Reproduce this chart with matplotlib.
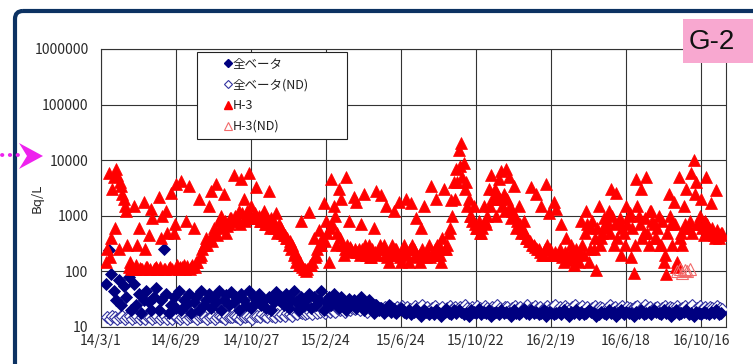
import numpy as np
import pandas as pd
import matplotlib
matplotlib.use("Agg")
import matplotlib.pyplot as plt
from matplotlib.patches import FancyBboxPatch, Polygon, Rectangle
from matplotlib.lines import Line2D
from matplotlib.ticker import NullLocator, FixedLocator, FixedFormatter

plt.rcParams['font.family'] = ['Noto Sans CJK JP', 'DejaVu Sans']

# ---------------- data ----------------
x_tick_labels = ["14/3/1", "14/6/29", "14/10/27", "15/2/24", "15/6/24",
                 "15/10/22", "16/2/19", "16/6/18", "16/10/16"]
y_ticks = [10, 100, 1000, 10000, 100000, 1000000]
y_tick_labels = ["10", "100", "1000", "10000", "100000", "1000000"]
x_start = "2014-03-01"
x_end = "2016-11-25"

# H-3 (Bq/L), sampled every 4 days from 2014-03-09
h3_start = "2014-03-09"
h3_step = "4D"
h3_values = [
    150, 6000, 400, 5000, 7000, 250, 3500, 2000, 1200, 120,
    110, 1500, 130, 600, 110, 1800, 120, 450, 1300, 110,
    120, 2200, 400, 110, 1200, 115, 2600, 500, 3800, 110,
    4200, 130, 800, 3500, 120, 600, 150, 2000, 200, 300,
    400, 1500, 2800, 600, 3800, 800, 1000, 2500, 500, 700,
    900, 5500, 800, 1200, 4500, 2000, 1000, 6000, 1500, 900,
    3300, 1000, 800, 1200, 700, 2800, 900, 600, 1100, 700,
    600, 450, 400, 300, 250, 200, 150, 130, 800, 110,
    100, 1150, 130, 400, 200, 550, 300, 1700, 800, 150,
    4500, 1500, 300, 3000, 2000, 200, 5000, 800, 250, 2200,
    1800, 250, 700, 2500, 200, 300, 180, 600, 2800, 250,
    2400, 300, 1500, 150, 200, 1200, 250, 1800, 150, 300,
    2000, 150, 1700, 250, 900, 200, 600, 1500, 180, 300,
    3500, 200, 2000, 300, 150, 3000, 250, 500, 1900, 4000,
    7000, 15000, 20000, 9000, 4000, 2000, 1000, 1500, 600, 800,
    500, 1500, 700, 3000, 5500, 2000, 1000, 4500, 6500, 2500,
    7000, 5000, 900, 3500, 600, 1500, 500, 800, 400, 350,
    3300, 300, 2500, 250, 1500, 200, 3800, 1100, 200, 1800,
    1300, 200, 700, 150, 400, 180, 300, 130, 250, 150,
    800, 200, 1200, 150, 600, 250, 105, 1500, 400, 900,
    600, 1200, 3000, 300, 2600, 800, 200, 500, 1500, 1000,
    180, 95, 4500, 1000, 3000, 500, 5000, 300, 1200, 700,
    400, 1000, 300, 150, 90, 2500, 700, 1800, 120, 5000,
    500, 1500, 3000, 600, 6000, 10000, 4000, 700, 2000, 450,
    5000, 600, 1700, 450, 2900, 400, 500,
]
# H-3 intermediate samples, every 4 days from 2014-03-11
h3_b_start = "2014-03-11"
h3_b_values = [
    250, 180, 3000, 600, 5500, 4000, 2500, 1500, 300, 150,
    120, 110, 300, 115, 110, 250, 120, 110, 900, 115,
    110, 120, 1000, 110, 500, 120, 110, 700, 130, 120,
    120, 110, 125, 110, 130, 120, 150, 180, 250, 300,
    300, 400, 350, 500, 450, 600, 700, 800, 650, 900,
    800, 1000, 900, 700, 1100, 800, 1200, 1000, 900, 1100,
    900, 800, 1000, 700, 900, 600, 800, 700, 500, 600,
    500, 450, 400, 350, 300, 220, 180, 150, 120, 110,
    110, 130, 150, 180, 250, 300, 400, 350, 500, 600,
    700, 1000, 500, 400, 300, 250, 300, 280, 220, 250,
    220, 200, 250, 300, 200, 180, 250, 220, 200, 300,
    250, 200, 180, 220, 300, 250, 200, 180, 220, 250,
    200, 250, 300, 200, 180, 150, 250, 200, 220, 180,
    200, 250, 300, 200, 400, 250, 300, 600, 1000, 2000,
    4000, 8000, 5000, 3000, 1500, 1000, 800, 700, 600, 500,
    600, 800, 1000, 1500, 2000, 3000, 2500, 2000, 1500, 1200,
    2000, 1500, 1200, 1000, 800, 700, 600, 500, 400, 350,
    300, 280, 250, 220, 200, 250, 300, 250, 200, 220,
    200, 250, 180, 220, 160, 200, 250, 180, 200, 220,
    300, 500, 700, 250, 800, 400, 600, 300, 500, 700,
    800, 500, 1000, 700, 400, 900, 600, 300, 700, 1100,
    600, 300, 1500, 700, 400, 900, 500, 1200, 800, 400,
    600, 300, 800, 200, 500, 1000, 300, 700, 150, 400,
    300, 700, 600, 800, 500, 2500, 700, 1000, 600, 800,
    700, 500, 600, 400, 550, 450, 500,
]

# H-3 not detected (detection limit values)
h3_nd_dates = ["2016-09-08", "2016-09-12", "2016-09-16", "2016-09-20",
               "2016-09-24", "2016-09-28"]
h3_nd_values = [100, 110, 95, 105, 100, 110]

# gross beta detected, every 4 days from 2014-03-09
beta_start = "2014-03-09"
beta_step = "4D"
beta_values = [
    60, 240, 90, 45, 30, 70, 25, 55, 35, 80,
    20, 60, 25, 40, 18, 30, 45, 28, 20, 35,
    50, 20, 30, 250, 40, 18, 25, 35, 22, 45,
    20, 30, 25, 40, 18, 28, 35, 20, 45, 25,
    30, 40, 22, 35, 28, 45, 20, 30, 38, 25,
    42, 28, 35, 20, 40, 30, 25, 45, 22, 35,
    28, 40, 25, 30, 22, 35, 20, 28, 42, 30,
    35, 25, 40, 22, 30, 45, 28, 20, 35, 25,
    30, 40, 22, 35, 25, 30, 45, 20, 28, 35,
    25, 40, 30, 22, 35, 28, 20, 32, 25, 30,
    22, 28, 35, 20, 25, 30, 22, 18, 25, 20,
    22, 18, 20, 25, 19, 21, 18, 20, 22, 19,
    18, 20, 17, 19, 21, 18, 16, 20, 19, 17,
    19, 17, 20, 18, 16, 19, 21, 18, 17, 20,
    18, 20, 19, 17, 18, 16, 20, 19, 18, 21,
    17, 19, 18, 20, 16, 18, 19, 17, 20, 18,
    19, 18, 16, 20, 18, 17, 19, 21, 18, 17,
    20, 18, 19, 17, 18, 20, 16, 19, 18, 17,
    18, 19, 17, 20, 18, 16, 19, 18, 20, 17,
    19, 17, 18, 20, 19, 18, 16, 17, 19, 18,
    17, 20, 18, 19, 16, 18, 20, 17, 19, 18,
    18, 16, 19, 18, 20, 17, 18, 19, 17, 20,
    19, 18, 17, 20, 18, 19, 16, 18, 20, 17,
    18, 19, 20, 17, 18, 16, 19, 18, 17, 19,
    18, 17, 19, 18, 20, 17, 18,
]

# gross beta not detected (detection limit), every 4 days from 2014-03-11
beta_nd_start = "2014-03-11"
beta_nd_step = "4D"
beta_nd_values = [
    15, 14, 16, 15, 14, 15, 16, 14, 15, 16,
    14, 15, 16, 14, 15, 14, 16, 15, 14, 15,
    16, 14, 15, 16, 14, 15, 14, 16, 15, 14,
    15, 16, 14, 15, 16, 15, 14, 15, 16, 15,
    14, 15, 16, 14, 15, 16, 15, 14, 16, 15,
    15, 16, 15, 14, 16, 15, 16, 15, 14, 16,
    16, 15, 17, 16, 15, 17, 16, 15, 17, 16,
    17, 16, 18, 17, 16, 18, 17, 19, 18, 17,
    18, 19, 17, 20, 18, 19, 21, 18, 20, 19,
    20, 19, 22, 20, 21, 19, 23, 20, 22, 21,
    22, 20, 24, 21, 19, 23, 21, 25, 20, 22,
    21, 23, 20, 24, 22, 19, 23, 21, 24, 20,
    23, 21, 19, 24, 22, 20, 25, 21, 23, 20,
    22, 24, 20, 21, 23, 19, 22, 24, 21, 23,
    20, 23, 21, 25, 22, 20, 23, 21, 24, 22,
    21, 24, 22, 20, 23, 21, 25, 22, 20, 23,
    23, 20, 22, 24, 21, 23, 20, 22, 25, 21,
    22, 24, 21, 23, 20, 22, 24, 21, 23, 25,
    20, 23, 21, 24, 22, 20, 23, 25, 21, 22,
    24, 21, 23, 20, 22, 24, 21, 23, 22, 20,
    22, 25, 21, 23, 20, 22, 24, 21, 23, 22,
    21, 23, 24, 20, 22, 25, 21, 23, 20, 22,
    23, 20, 22, 24, 21, 23, 22, 20, 24, 21,
    22, 24, 21, 23, 25, 20, 22, 24, 21, 23,
    21, 23, 22, 20, 24, 22, 21,
]

series_labels = ["全ベータ", "全ベータ(ND)", "H-3", "H-3(ND)"]
panel_label = "G-2"
y_label = "Bq/L"

# ---------------- figure ----------------
W, H = 753, 364
fig = plt.figure(figsize=(W / 100, H / 100), dpi=100)
fig.patch.set_facecolor("white")

L, R, T, B = 101, 726, 49, 327
ax = fig.add_axes([L / W, 1 - B / H, (R - L) / W, (B - T) / H])

beta_dates = pd.date_range(beta_start, periods=len(beta_values), freq=beta_step)
beta_nd_dates = pd.date_range(beta_nd_start, periods=len(beta_nd_values), freq=beta_nd_step)
h3_dates = pd.date_range(h3_start, periods=len(h3_values), freq=h3_step)
h3_b_dates = pd.date_range(h3_b_start, periods=len(h3_b_values), freq=h3_step)
h3_nd_d = pd.to_datetime(h3_nd_dates)

h3_all_dates = h3_dates.append(h3_b_dates)
h3_all_values = list(h3_values) + list(h3_b_values)

navy = "#000080"
red = "#ff0000"
nd_blue = "#3333a0"
nd_red = "#f26a6a"

ax.plot(beta_nd_dates, beta_nd_values, linestyle="none", marker="D", ms=6.0,
        mfc="white", mec=nd_blue, mew=0.8, zorder=3)
ax.plot(beta_dates, beta_values, linestyle="none", marker="D", ms=6.0,
        mfc=navy, mec=navy, mew=0.6, zorder=3)
ax.plot(h3_all_dates, h3_all_values, linestyle="none", marker="^", ms=8.5,
        mfc=red, mec=red, mew=0.5, zorder=4)
ax.plot(h3_nd_d, h3_nd_values, linestyle="none", marker="^", ms=8.5,
        mfc="none", mec=nd_red, mew=0.8, zorder=4)

ax.set_yscale("log")
ax.set_ylim(y_ticks[0], y_ticks[-1])
ax.yaxis.set_major_locator(FixedLocator(y_ticks))
ax.yaxis.set_major_formatter(FixedFormatter(y_tick_labels))
ax.yaxis.set_minor_locator(NullLocator())

xt = pd.to_datetime(["20" + s for s in x_tick_labels], format="%Y/%m/%d")
ax.set_xlim(pd.Timestamp(x_start), pd.Timestamp(x_end))
ax.set_xticks(xt)
ax.set_xticklabels(x_tick_labels)
ax.xaxis.set_minor_locator(NullLocator())

ax.grid(True, which="major", color="#333333", linewidth=0.8)
ax.set_axisbelow(True)
for s in ax.spines.values():
    s.set_color("#333333")
    s.set_linewidth(0.8)
ax.tick_params(axis="both", length=0, labelsize=10, colors="#2a2a2a")
ax.tick_params(axis="y", pad=9)
ax.tick_params(axis="x", pad=5)

ax.set_ylabel(y_label, fontsize=9.5, color="#2a2a2a")
ax.yaxis.set_label_coords(-0.092, 0.464)

handles = [
    Line2D([], [], linestyle="none", marker="D", ms=4, mfc=navy, mec=navy),
    Line2D([], [], linestyle="none", marker="D", ms=4, mfc="none", mec=nd_blue, mew=0.8),
    Line2D([], [], linestyle="none", marker="^", ms=6, mfc=red, mec=red),
    Line2D([], [], linestyle="none", marker="^", ms=6, mfc="none", mec=nd_red, mew=0.8),
]
x0 = (197 - L) / (R - L)
x1 = (347 - L) / (R - L)
ytop = (B - 52) / (B - T)
leg = ax.legend(handles, series_labels, loc="upper left",
                bbox_to_anchor=(x0, ytop - 0.3, x1 - x0, 0.3), mode="expand",
                borderaxespad=0, fontsize=9, frameon=True, fancybox=False,
                edgecolor="#222222", framealpha=1, handlelength=4.0,
                handletextpad=-1.6, borderpad=0.45, labelspacing=0.62,
                numpoints=1)
leg.get_frame().set_linewidth(0.8)
leg.set_zorder(6)
for t in leg.get_texts():
    t.set_color("#222222")

# ---------------- decorations (pixel overlay) ----------------
deco = fig.add_axes([0, 0, 1, 1], zorder=10)
deco.set_xlim(0, W)
deco.set_ylim(H, 0)
deco.axis("off")
deco.patch.set_alpha(0)

frame = FancyBboxPatch((15, 11), 800, 420, boxstyle="round,pad=0,rounding_size=8",
                       fill=False, edgecolor="#0c3262", linewidth=3.0)
deco.add_patch(frame)

deco.add_patch(Rectangle((683, 19), 80, 44, facecolor="#f8a8d0", edgecolor="none"))
deco.text(712, 42, panel_label, fontsize=20, ha="center", va="center",
          color="#111111", family=["Liberation Sans", "DejaVu Sans"])

deco.add_line(Line2D([2, 20], [155, 155], color="#ee22ee", linewidth=2.8,
                     linestyle=(0, (0.1, 1.9)), dash_capstyle="round"))
deco.add_patch(Polygon([(19, 143), (43, 156), (19, 169), (27, 156)], closed=True,
                       facecolor="#ee22ee", edgecolor="none"))

fig.savefig("out.png", dpi=100)
